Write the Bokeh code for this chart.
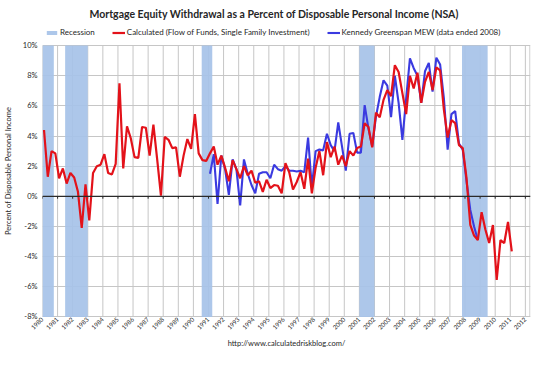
from math import pi
from bokeh.plotting import figure
from bokeh.models import Range1d, FixedTicker, Legend, LegendItem, Span
from bokeh.embed import file_html
from bokeh.resources import INLINE

title_text = "Mortgage Equity Withdrawal as a Percent of Disposable Personal Income (NSA)"
source_text = "http://www.calculatedriskblog.com/"
y_axis_title = "Percent of Disposable Personal Income"

# Calculated (Flow of Funds) series, quarterly, starting 1980 Q1 (percent)
calc_label = "Calculated (Flow of Funds, Single Family Investment)"
calc_first_year = 1980
calculated = [
    4.4, 1.3, 3.0, 2.85,      # 1980
    1.2, 1.85, 0.85, 1.55,    # 1981
    1.25, 0.3, -2.1, 0.8,     # 1982
    -1.6, 1.55, 2.0, 2.1,     # 1983
    2.8, 1.55, 1.45, 2.15,    # 1984
    7.5, 1.85, 4.65, 3.85,    # 1985
    2.6, 2.55, 4.6, 4.55,     # 1986
    2.7, 4.75, 2.45, 0.05,    # 1987
    3.95, 3.75, 3.2, 3.25,    # 1988
    1.3, 2.7, 3.8, 3.15,      # 1989
    5.45, 2.85, 2.4, 2.35,    # 1990
    2.85, 3.3, 2.1, 2.7,      # 1991
    1.9, 1.0, 2.4, 1.8,       # 1992
    1.2, 2.0, 1.4, 1.7,       # 1993
    0.9, 1.0, 0.3, 1.1,       # 1994
    0.55, 0.75, 0.7, 0.2,     # 1995
    2.2, 1.6, 0.45, 0.95,     # 1996
    1.6, 0.5, 2.5, 0.2,       # 1997
    1.9, 3.0, 1.4, 3.6,       # 1998
    2.6, 3.3, 2.1, 2.7,       # 1999
    2.0, 3.0, 2.7, 3.2,       # 2000
    3.3, 4.85, 4.6, 3.25,     # 2001
    5.55, 5.25, 6.4, 7.05,    # 2002
    6.65, 8.7, 8.25, 6.85,    # 2003
    5.45, 8.0, 7.15, 8.2,     # 2004
    6.2, 7.6, 8.25, 7.05,     # 2005
    8.55, 8.35, 5.75, 3.9,    # 2006
    5.05, 4.85, 3.4, 3.2,     # 2007
    1.2, -1.9, -2.6, -2.9,    # 2008
    -1.05, -2.2, -3.1, -1.9,  # 2009
    -5.55, -2.9, -3.1, -1.7,  # 2010
    -3.65,                    # 2011
]

# Kennedy-Greenspan MEW series, quarterly, starting 1991 Q1 (percent)
mew_label = "Kennedy Greenspan MEW (data ended 2008)"
mew_first_year = 1991
mew = [
    1.5, 2.8, -0.5, 2.7,      # 1991
    1.8, 0.1, 2.45, 1.8,      # 1992
    -0.6, 2.45, 1.5, 0.75,    # 1993
    0.2, 1.5, 1.6, 1.6,       # 1994
    1.2, 2.1, 1.8, 1.7,       # 1995
    2.0, 1.7, 1.7, 1.65,      # 1996
    1.7, 1.6, 3.9, 0.6,       # 1997
    3.0, 3.1, 3.05, 4.15,     # 1998
    3.4, 3.0, 4.9, 3.3,       # 1999
    1.7, 4.15, 4.2, 2.9,      # 2000
    2.9, 6.05, 4.5, 3.3,      # 2001
    5.3, 6.6, 7.7, 7.35,      # 2002
    5.25, 8.0, 6.2, 3.75,     # 2003
    6.5, 9.15, 8.5, 8.0,      # 2004
    6.2, 8.3, 8.85, 6.95,     # 2005
    9.2, 8.75, 6.5, 3.1,      # 2006
    5.45, 5.65, 3.5, 3.1,     # 2007
    1.0, -0.9, -2.0, -2.9,    # 2008
]

recession_label = "Recession"
recession_start = [1980.0, 1981.5, 1990.55, 2001.0, 2007.8]
recession_end = [1980.75, 1983.0, 1991.25, 2002.0, 2009.5]

year_ticks = list(range(1980, 2013))
year_labels = [str(y) for y in year_ticks]
pct_ticks = [-8, -6, -4, -2, 0, 2, 4, 6, 8, 10]
pct_labels = ["-8%", "-6%", "-4%", "-2%", "0%", "2%", "4%", "6%", "8%", "10%"]


def quarter_dates(first_year, n):
    return [first_year + i / 4 + 0.1 for i in range(n)]


FONT = "Lato"
GRID = "#c6c6c6"
INK = "#262626"

x_min, x_max = year_ticks[0], year_ticks[-1] + 0.3
y_min, y_max = pct_ticks[0], pct_ticks[-1]
HEADROOM = 1.40   # room above the 10% line that holds the legend

p = figure(width=534, height=351, output_backend="svg", toolbar_location=None,
           x_range=Range1d(x_min, x_max + 0.04),
           y_range=Range1d(y_min - 0.04, y_max + HEADROOM),
           min_border_left=36, min_border_right=4, min_border_top=0,
           min_border_bottom=20)
p.background_fill_color = "white"
p.border_fill_color = "white"
p.outline_line_color = None

# vertical year grid lines and right border of the plot area
grid_x = year_ticks + [x_max]
p.segment(x0=grid_x, y0=[y_min] * len(grid_x), x1=grid_x, y1=[y_max] * len(grid_x),
          line_color=GRID, line_width=1)

# recession bars
rec = p.quad(left=recession_start, right=recession_end,
             bottom=y_min, top=y_max,
             fill_color="#a6c2e8", fill_alpha=0.92, line_color=None)

# zero line with year tick marks
p.add_layout(Span(location=0, dimension="width", line_color="#2a2a2a", line_width=1.3))
p.segment(x0=year_ticks, y0=[0] * len(year_ticks), x1=year_ticks,
          y1=[-0.16] * len(year_ticks), line_color="#2a2a2a", line_width=1)

mew_line = p.line(quarter_dates(mew_first_year, len(mew)), mew,
                  line_color="#3a3ae0", line_width=2.1)
calc_line = p.line(quarter_dates(calc_first_year, len(calculated)), calculated,
                   line_color="#e3121a", line_width=2.2)

# axes
xa = p.xaxis[0]
xa.ticker = FixedTicker(ticks=year_ticks)
xa.major_label_overrides = dict(zip(year_ticks, year_labels))
xa.major_label_orientation = pi / 4
xa.major_label_text_font = FONT
xa.major_label_text_font_size = "6.2px"
xa.major_label_text_color = INK
xa.major_label_standoff = 1
xa.major_tick_in = 0
xa.major_tick_out = 0
xa.minor_tick_in = 0
xa.minor_tick_out = 0
xa.axis_line_color = None
xa.major_tick_line_color = None
xa.minor_tick_line_color = None
xa.axis_label = source_text
xa.axis_label_text_font = FONT
xa.axis_label_text_font_size = "7.5px"
xa.axis_label_text_font_style = "normal"
xa.axis_label_text_color = INK
xa.axis_label_standoff = 5

ya = p.yaxis[0]
ya.ticker = FixedTicker(ticks=pct_ticks)
ya.major_label_overrides = dict(zip(pct_ticks, pct_labels))
ya.major_label_text_font = FONT
ya.major_label_text_font_size = "7.5px"
ya.major_label_text_color = INK
ya.major_label_standoff = 5
ya.major_tick_in = 0
ya.major_tick_out = 0
ya.minor_tick_in = 0
ya.minor_tick_out = 0
ya.axis_line_color = None
ya.major_tick_line_color = None
ya.minor_tick_line_color = None
ya.axis_label = y_axis_title
ya.axis_label_text_font = FONT
ya.axis_label_text_font_size = "7.5px"
ya.axis_label_text_font_style = "normal"
ya.axis_label_text_color = INK
ya.axis_label_standoff = 7

p.xgrid[0].visible = False
p.ygrid[0].ticker = FixedTicker(ticks=pct_ticks)
p.ygrid[0].grid_line_color = GRID
p.ygrid[0].grid_line_width = 1

legend = Legend(items=[LegendItem(label=recession_label, renderers=[rec]),
                       LegendItem(label=calc_label, renderers=[calc_line]),
                       LegendItem(label=mew_label, renderers=[mew_line])],
                orientation="horizontal", location="top_left",
                label_text_font=FONT, label_text_font_size="8px",
                label_text_color=INK,
                glyph_width=13, glyph_height=5, label_height=10, label_standoff=2,
                spacing=17, padding=0, margin=3, border_line_color=None,
                background_fill_alpha=0)
p.add_layout(legend)

p.title.text = title_text
p.title.text_font = FONT
p.title.text_font_size = "10.5px"
p.title.text_font_style = "bold"
p.title.text_color = INK
p.title.align = "left"
p.title.offset = 47
p.title.standoff = 10

open("out.html", "w").write(file_html(p, INLINE))
